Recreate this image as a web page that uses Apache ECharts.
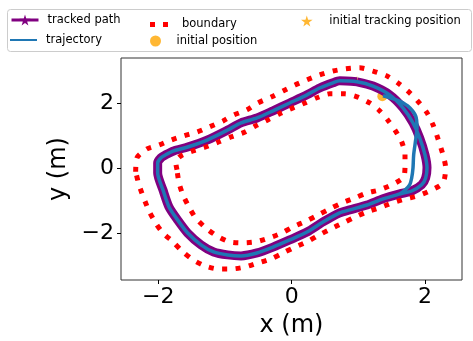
<!DOCTYPE html>
<html><head><meta charset="utf-8">
<script src="https://cdn.jsdelivr.net/npm/echarts@6/dist/echarts.min.js"></script>
<style>html,body{margin:0;padding:0;background:#fff}#c{width:473px;height:341px}</style>
</head><body><div id="c"></div>
<script>
// ---- data (metres) ----
const xTicks = [-2, 0, 2];
const yTicks = [-2, 0, 2];
const initialPosition = [[1.36, 2.22]];
const initialTrackingPosition = [[0.98, 2.70]];
const trackedPath = [
 [0.98,2.66],[1.22,2.53],[1.47,2.26],[1.67,1.86],[1.82,1.40],[1.92,0.94],[2.00,0.42],[2.03,0.02],
 [2.01,-0.29],[1.95,-0.50],[1.80,-0.69],[1.62,-0.78],[1.37,-0.93],[1.13,-1.12],[0.87,-1.27],[0.72,-1.36],
 [0.47,-1.64],[0.23,-1.95],[-0.03,-2.19],[-0.28,-2.41],[-0.52,-2.59],[-0.76,-2.68],[-0.96,-2.65],[-1.17,-2.56],
 [-1.36,-2.34],[-1.56,-1.98],[-1.71,-1.58],[-1.84,-1.18],[-1.93,-0.66],[-2.01,-0.14],[-2.01,0.17],[-1.96,0.33],
 [-1.89,0.42],[-1.77,0.54],[-1.56,0.66],[-1.26,0.88],[-0.96,1.18],[-0.76,1.40],[-0.52,1.55],[-0.28,1.77],
 [-0.03,2.01],[0.23,2.26],[0.42,2.47],[0.62,2.63],[0.72,2.69],[0.98,2.66]
];
const trajectory = [
 [1.37,2.23],[1.58,2.10],[1.74,1.92],[1.86,1.61],[1.88,1.25],[1.86,0.88],[1.83,0.42],[1.82,0.02],
 [1.80,-0.29],[1.77,-0.50],[1.70,-0.66],[1.62,-0.78],[1.37,-0.93],[1.13,-1.12],[0.87,-1.27],[0.72,-1.36],
 [0.47,-1.64],[0.23,-1.95],[-0.03,-2.19],[-0.28,-2.41],[-0.52,-2.59],[-0.76,-2.68],[-0.96,-2.65],[-1.17,-2.56],
 [-1.36,-2.34],[-1.56,-1.98],[-1.71,-1.58],[-1.84,-1.18],[-1.93,-0.66],[-2.01,-0.14],[-2.01,0.17],[-1.96,0.33],
 [-1.89,0.42],[-1.77,0.54],[-1.56,0.66],[-1.26,0.88],[-0.96,1.18],[-0.76,1.40],[-0.52,1.55],[-0.28,1.77],
 [-0.03,2.01],[0.23,2.26],[0.42,2.47],[0.62,2.63],[0.72,2.69],[0.98,2.66],[1.22,2.53],[1.47,2.26],
 [1.67,1.86],[1.82,1.40],[1.92,0.94],[2.00,0.42],[2.03,0.02],[2.01,-0.29],[1.95,-0.50],[1.80,-0.69],[1.62,-0.78]
];
const outerBoundary = [
 [-2.34,-0.10],[-2.32,0.33],[-2.17,0.60],[-1.99,0.72],[-1.80,0.88],[-1.62,1.00],[-1.42,1.12],[-1.23,1.28],
 [-1.03,1.46],[-0.87,1.64],[-0.67,1.80],[-0.51,2.01],[-0.30,2.20],[-0.13,2.38],[0.05,2.56],[0.23,2.72],
 [0.42,2.87],[0.62,2.99],[0.81,3.06],[1.02,3.09],[1.22,2.99],[1.43,2.84],[1.59,2.63],[1.74,2.38],
 [1.89,2.07],[2.03,1.71],[2.12,1.34],[2.19,0.94],[2.27,0.42],[2.31,0.02],[2.27,-0.44],[2.10,-0.66],
 [1.89,-0.84],[1.71,-0.93],[1.50,-1.06],[1.31,-1.21],[1.13,-1.33],[0.95,-1.49],[0.77,-1.67],[0.59,-1.85],
 [0.41,-2.04],[0.23,-2.25],[0.05,-2.41],[-0.13,-2.59],[-0.31,-2.77],[-0.51,-2.90],[-0.70,-3.02],[-0.90,-3.08],
 [-1.11,-3.08],[-1.30,-2.99],[-1.48,-2.80],[-1.63,-2.56],[-1.78,-2.25],[-1.93,-1.98],[-2.04,-1.67],[-2.14,-1.30],
 [-2.22,-0.90],[-2.29,-0.50],[-2.34,-0.10]
];
const innerBoundary = [
 [-1.72,-0.04],[-1.74,0.20],[-1.66,0.39],[-1.48,0.54],[-1.29,0.66],[-1.09,0.82],[-0.91,0.97],[-0.70,1.12],
 [-0.54,1.31],[-0.36,1.49],[-0.18,1.68],[0.02,1.86],[0.20,2.01],[0.38,2.17],[0.57,2.29],[0.80,2.29],
 [0.98,2.20],[1.17,2.01],[1.32,1.77],[1.44,1.49],[1.55,1.18],[1.65,0.82],[1.70,0.42],[1.70,0.11],
 [1.68,-0.26],[1.50,-0.50],[1.31,-0.66],[1.13,-0.75],[0.95,-0.90],[0.75,-1.06],[0.57,-1.24],[0.40,-1.42],
 [0.22,-1.61],[0.02,-1.79],[-0.15,-1.98],[-0.34,-2.13],[-0.54,-2.25],[-0.73,-2.28],[-0.93,-2.25],[-1.12,-2.07],
 [-1.29,-1.82],[-1.44,-1.52],[-1.54,-1.18],[-1.63,-0.81],[-1.69,-0.44],[-1.72,-0.04]
];
// ---- chart ----
const FONT = 'DejaVu Sans';
const STAR = 'path://M50,0 L61,35 L98,35 L68,57 L79,91 L50,70 L21,91 L32,57 L2,35 L39,35 Z';
const LINE_ICON = 'path://M0,0h27v2h-27z';
const DOTS_ICON = 'path://M0,0h5v5h-5z M13,0h5v5h-5z';
const fmt = v => (v < 0 ? '\u2212' + Math.abs(v) : String(v));
const legendBase = {orient:'vertical', itemWidth:27, itemHeight:14, padding:0, selectedMode:false, z:5,
  textStyle:{fontFamily:FONT, fontSize:11.5, color:'#000', padding:[0,0,0,4]}};
const boundaryStyle = {color:'#ff0000', width:5, type:[5,8.5], cap:'butt'};
const chart = echarts.init(document.getElementById('c'), null, {renderer:'canvas'});
chart.setOption({
  animation:false,
  backgroundColor:'#fff',
  grid:{left:121, top:58, width:341, height:222, show:true, borderColor:'#333', borderWidth:1,
    backgroundColor:'transparent', containLabel:false, outerBoundsMode:'none'},
  xAxis:{type:'value', min:-2.56, max:2.555, axisLine:{show:false, onZero:false}, splitLine:{show:false},
    axisTick:{show:true, customValues:xTicks, length:4, lineStyle:{color:'#000'}},
    axisLabel:{customValues:xTicks, formatter:fmt, fontSize:22, fontFamily:FONT, color:'#000', margin:6},
    name:'x (m)', nameLocation:'middle', nameGap:34, nameTextStyle:{fontSize:24, fontFamily:FONT, color:'#000'}},
  yAxis:{type:'value', min:-3.42, max:3.39, axisLine:{show:false, onZero:false}, splitLine:{show:false},
    axisTick:{show:true, customValues:yTicks, length:4, lineStyle:{color:'#000'}},
    axisLabel:{customValues:yTicks, formatter:fmt, fontSize:22, fontFamily:FONT, color:'#000', margin:7},
    name:'y (m)', nameLocation:'middle', nameGap:50, nameTextStyle:{fontSize:24, fontFamily:FONT, color:'#000'}},
  legend:[
    Object.assign({}, legendBase, {left:10, top:14, data:['tracked path'], lineStyle:{width:3}}),
    Object.assign({}, legendBase, {left:10, top:34, data:[{name:'trajectory', icon:LINE_ICON}]}),
    Object.assign({}, legendBase, {left:150, top:18.5, itemWidth:18, itemHeight:5,
      textStyle:Object.assign({}, legendBase.textStyle, {padding:[0,0,0,9]}), data:[{name:'boundary', icon:DOTS_ICON}]}),
    Object.assign({}, legendBase, {left:150, top:35, itemWidth:22, itemHeight:11,
      textStyle:Object.assign({}, legendBase.textStyle, {padding:[0,0,0,5]}), data:['initial position']}),
    Object.assign({}, legendBase, {left:301, top:15, itemHeight:11, data:['initial tracking position']})
  ],
  graphic:[{type:'rect', z:1, shape:{x:7.5, y:9.5, width:464, height:42, r:3},
    style:{fill:'rgba(255,255,255,0.8)', stroke:'#cccccc', lineWidth:1}}],
  series:[
    {name:'initial position', type:'scatter', data:initialPosition, symbol:'circle', symbolSize:10,
      itemStyle:{color:'#ffa500'}, z:1},
    {name:'initial tracking position', type:'scatter', data:initialTrackingPosition, symbol:STAR, symbolSize:9,
      itemStyle:{color:'#ffa500'}, z:1},
    {name:'tracked path', type:'line', data:trackedPath, symbol:STAR, symbolSize:8, showSymbol:false, smooth:0.25,
      lineStyle:{color:'#800080', width:9}, itemStyle:{color:'#800080'}, z:2},
    {name:'trajectory', type:'line', data:trajectory, symbol:'none', smooth:0.25,
      lineStyle:{color:'#1f77b4', width:3.5}, itemStyle:{color:'#1f77b4'}, z:3},
    {name:'boundary', type:'line', data:outerBoundary, symbol:'none', smooth:0.25,
      lineStyle:boundaryStyle, itemStyle:{color:'#ff0000'}, z:3},
    {name:'boundary', type:'line', data:innerBoundary, symbol:'none', smooth:0.25,
      lineStyle:boundaryStyle, itemStyle:{color:'#ff0000'}, z:3}
  ]
});
</script></body></html>
